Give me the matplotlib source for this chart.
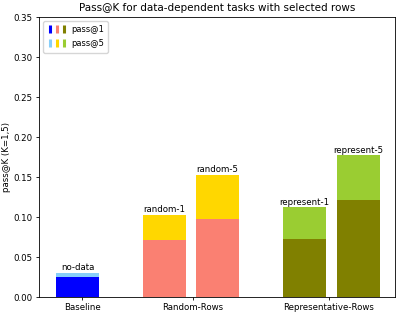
import matplotlib
matplotlib.use('Agg')
import matplotlib.pyplot as plt
from matplotlib.lines import Line2D
from matplotlib.legend_handler import HandlerTuple

# Values
bar_names = ['no-data', 'random-1', 'random-5', 'represent-1', 'represent-5']
pass1 = [0.025, 0.071, 0.097, 0.073, 0.121]
pass5 = [0.030, 0.103, 0.153, 0.112, 0.177]
group_labels = ['Baseline', 'Random-Rows', 'Representative-Rows']

# Layout (roughly in bar-width units)
bar_pos = [0.9, 2.92, 4.15, 6.18, 7.43]
tick_pos = [1.0, 3.58, 6.74]
width = 1.0
colors1 = ['blue', 'salmon', 'salmon', 'olive', 'olive']
colors5 = ['lightskyblue', 'gold', 'gold', 'yellowgreen', 'yellowgreen']

fig = plt.figure(figsize=(3.99, 3.15), dpi=100)
ax = fig.add_axes([0.098, 0.057, 0.892, 0.889])

for i in range(len(bar_names)):
    ax.bar(bar_pos[i], pass1[i], width, color=colors1[i])
    ax.bar(bar_pos[i], pass5[i] - pass1[i], width, bottom=pass1[i], color=colors5[i])
    ax.text(bar_pos[i], pass5[i] + 0.001, bar_names[i], ha='center', va='bottom', fontsize=6.2)

ax.set_xlim(0, 8.28)
ax.set_ylim(0, 0.35)
ax.set_xticks(tick_pos)
ax.set_xticklabels(group_labels)
ax.tick_params(axis='both', labelsize=6.2, length=2.2, pad=2.2, width=0.6)
for s in ax.spines.values():
    s.set_linewidth(0.6)
ax.set_ylabel('pass@K (K=1,5)', fontsize=6.2, labelpad=2)
ax.set_title('Pass@K for data-dependent tasks with selected rows', fontsize=7.5, pad=4)


def mk(c):
    return Line2D([], [], marker='|', linestyle='none', color=c,
                  markersize=5.5, markeredgewidth=2.2)


h1 = tuple(mk(c) for c in ['blue', 'salmon', 'olive'])
h5 = tuple(mk(c) for c in ['lightskyblue', 'gold', 'yellowgreen'])
ax.legend([h1, h5], ['pass@1', 'pass@5'], loc='upper left', fontsize=6,
          handler_map={tuple: HandlerTuple(ndivide=None, pad=0.3)},
          handlelength=2.2, borderpad=0.5, labelspacing=0.6, handletextpad=0.6,
          borderaxespad=0.5)

plt.savefig('out.png')
